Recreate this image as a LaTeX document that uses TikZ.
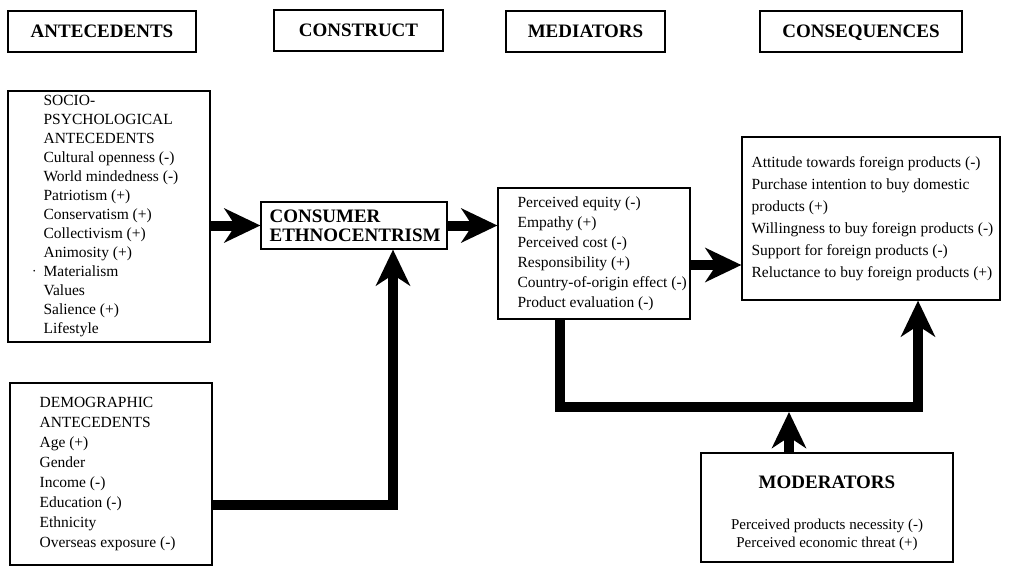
\documentclass[tikz,border=0pt]{standalone}
\usepackage{fontspec}
\setmainfont{Liberation Serif}
\usepackage{tikz}
\usetikzlibrary{arrows.meta,positioning}
\tikzset{
  frame/.style={draw=black, line width=1.2pt, inner sep=0pt},
  header/.style={frame, font=\fontsize{19}{20}\selectfont\bfseries, text height=13pt, text depth=0pt, minimum height=41pt},
  list/.style={align=left, inner sep=0pt, font=\fontsize{15.5}{19}\selectfont},
  boldlist/.style={align=left, inner sep=0pt, font=\fontsize{19}{19}\selectfont\bfseries},
  flow/.style={line width=10pt, -{Stealth[length=36pt, width=34pt, inset=11pt]}},
  link/.style={line width=10pt}
}
\begin{document}
\begin{tikzpicture}[x=1pt, y=-1pt]
  \useasboundingbox[fill=white] (0,0) rectangle (1030,567);

  \node[header, minimum width=188pt] (hant) at (102,31.5) {ANTECEDENTS};
  \node[header, minimum width=169pt] (hcon) at (358.5,30.5) {CONSTRUCT};
  \node[header, minimum width=159pt] (hmed) at (585.5,31.5) {MEDIATORS};
  \node[header, minimum width=202pt] (hseq) at (861,31.5) {CONSEQUENCES};

  \node[frame, minimum width=202pt, minimum height=251pt] (socio) at (109,216.5) {};
  \node[frame, minimum width=202pt, minimum height=182pt] (demo) at (111,474) {};
  \node[frame, minimum width=186pt, minimum height=47pt] (ce) at (354,225.5) {};
  \node[frame, minimum width=192pt, minimum height=131pt] (med) at (594,253.5) {};
  \node[frame, minimum width=258pt, minimum height=163pt] (cons) at (871,218.5) {};
  \node[frame, minimum width=252pt, minimum height=109pt] (mod) at (827,507.5) {};

  \node[list, right=36pt of socio.west] (sociotxt) {SOCIO-\\PSYCHOLOGICAL\\ANTECEDENTS\\Cultural openness (-)\\World mindedness (-)\\Patriotism (+)\\Conservatism (+)\\Collectivism (+)\\Animosity (+)\\\llap{\raisebox{3pt}{\scriptsize\textbullet}\hspace{8pt}}Materialism\\Values\\Salience (+)\\Lifestyle};
  \node[list, font=\fontsize{15.5}{20}\selectfont, right=30pt of demo.west] (demotxt) {DEMOGRAPHIC\\ANTECEDENTS\\Age (+)\\Gender\\Income (-)\\Education (-)\\Ethnicity\\Overseas exposure (-)};
  \node[boldlist, right=9pt of ce.west] (cetxt) {CONSUMER\\ETHNOCENTRISM};
  \node[list, font=\fontsize{15.5}{20}\selectfont, right=20pt of med.west] (medtxt) {Perceived equity (-)\\Empathy (+)\\Perceived cost (-)\\Responsibility (+)\\Country-of-origin effect (-)\\Product evaluation (-)};
  \node[list, font=\fontsize{15.5}{22}\selectfont, right=10pt of cons.west] (constxt) {Attitude towards foreign products (-)\\Purchase intention to buy domestic\\products (+)\\Willingness to buy foreign products (-)\\Support for foreign products (-)\\Reluctance to buy foreign products (+)};
  \node[boldlist, below=23pt of mod.north] (modtitle) {MODERATORS};
  \node[list, align=center, font=\fontsize{15}{18}\selectfont, below=30pt of modtitle] (modtxt) {Perceived products necessity (-)\\Perceived economic threat (+)};

  \coordinate (mc) at (0,265);
  \coordinate (busL) at (560,407);
  \coordinate (busR) at (918,407);
  \coordinate (modup) at (789,412);
  \coordinate (dem) at (393,505);

  \draw[flow] (socio.east |- ce.west) -- (ce.west);
  \draw[flow] (ce.east) -- (ce.east -| med.west);
  \draw[flow] (med.east |- mc) -- (cons.west |- mc);
  \draw[flow] (med.south -| busL) -- (busL) -- (busR) -- (cons.south -| busR);
  \draw[flow] (mod.north -| modup) -- (modup);
  \draw[flow] (demo.east |- dem) -- (dem) -- (ce.south -| dem);
\end{tikzpicture}
\end{document}
